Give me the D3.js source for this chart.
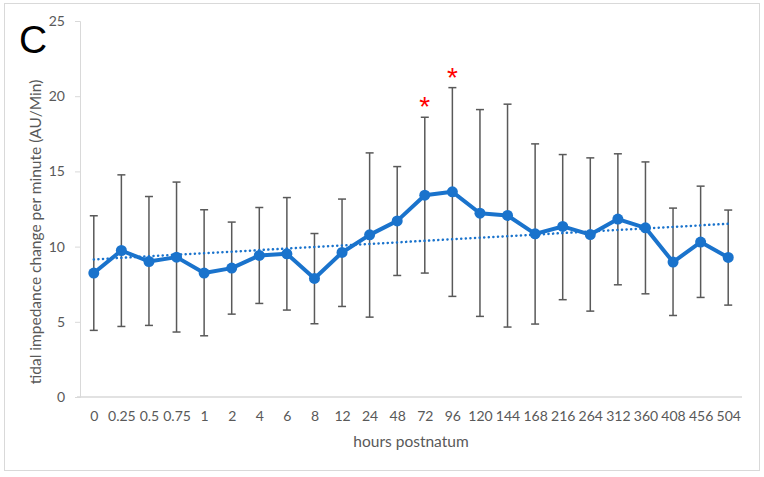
<!DOCTYPE html>
<html>
<head>
<meta charset="utf-8">
<script src="https://cdn.jsdelivr.net/npm/d3@7"></script>
<style>
  html, body { margin: 0; padding: 0; background: #fff; }
  svg { display: block; }
  text { font-family: "Lato", "Open Sans", sans-serif; }
</style>
</head>
<body>
<svg id="chart" width="764" height="477"></svg>
<script>
// ---- data ----
const categories = ["0","0.25","0.5","0.75","1","2","4","6","8","12","24","48","72","96","120","144","168","216","264","312","360","408","456","504"];
const meanValues = [8.24, 9.74, 9.01, 9.30, 8.24, 8.57, 9.41, 9.52, 7.88, 9.61, 10.78, 11.71, 13.42, 13.64, 12.22, 12.07, 10.85, 11.34, 10.80, 11.83, 11.25, 8.97, 10.30, 9.28];
const errUpper = [12.05, 14.77, 13.33, 14.29, 12.45, 11.63, 12.60, 13.26, 10.87, 13.16, 16.23, 15.32, 18.60, 20.57, 19.11, 19.47, 16.83, 16.12, 15.90, 16.17, 15.63, 12.56, 14.02, 12.43];
const errLower = [4.43, 4.69, 4.76, 4.32, 4.07, 5.51, 6.22, 5.78, 4.87, 6.02, 5.31, 8.08, 8.24, 6.69, 5.36, 4.65, 4.85, 6.47, 5.71, 7.46, 6.86, 5.42, 6.62, 6.11];
const significant = ["72", "96"];
const yTicks = [0, 5, 10, 15, 20, 25];
const panelLabel = "C";
const xTitle = "hours postnatum";
const yTitle = "tidal impedance change per minute (AU/Min)";

(function () {
const rows = categories.map((c, i) => ({ c, i, v: meanValues[i], hi: errUpper[i], lo: errLower[i] }));

const svg = d3.select("#chart");
const pl = 80, pr = 742, pt = 21, pb = 397;

const x = d3.scalePoint().domain(categories).range([pl, pr]).padding(0.5);
const y = d3.scaleLinear().domain([0, 25]).range([pb, pt]);

const grey = "#595959";
const blue = "#1a73cc";

// outer border
svg.append("rect").attr("x", 4.5).attr("y", 3.5).attr("width", 755).attr("height", 467)
  .attr("fill", "none").attr("stroke", "#d9d9d9").attr("stroke-width", 1);

// y axis
const yAxis = svg.append("g").attr("transform", `translate(${pl},0)`)
  .call(d3.axisLeft(y).tickValues(yTicks).tickSize(5).tickPadding(10));
yAxis.select(".domain").attr("stroke", "#d9d9d9");
yAxis.selectAll(".tick line").attr("stroke", "#d9d9d9");
yAxis.selectAll("text").attr("fill", grey).style("font-size", "14px");

// x axis
const xAxis = svg.append("g").attr("transform", `translate(0,${pb})`)
  .call(d3.axisBottom(x).tickSize(0).tickPadding(14));
xAxis.select(".domain").attr("stroke", "#d9d9d9").attr("d", `M${pl - 3},0H${pr}`).attr("stroke-width", 1.5);
xAxis.selectAll("text").attr("fill", grey).style("font-size", "14px");

// titles
svg.append("text").attr("x", (pl + pr) / 2).attr("y", 447).attr("text-anchor", "middle")
  .attr("fill", grey).style("font-size", "15.5px").text(xTitle);
svg.append("text").attr("transform", `translate(41,232) rotate(-90)`).attr("text-anchor", "middle")
  .attr("fill", grey).style("font-size", "15.5px").text(yTitle);
svg.append("text").attr("x", 19).attr("y", 53).attr("fill", "#000")
  .style("font-family", "'Liberation Sans', Arial, sans-serif").style("font-size", "39px").text(panelLabel);

// error bars
const eb = svg.append("g").attr("stroke", grey).attr("stroke-width", 1.5);
rows.forEach(d => {
  const cx = x(d.c);
  eb.append("line").attr("x1", cx).attr("x2", cx).attr("y1", y(d.hi)).attr("y2", y(d.lo));
  eb.append("line").attr("x1", cx - 4).attr("x2", cx + 4).attr("y1", y(d.hi)).attr("y2", y(d.hi));
  eb.append("line").attr("x1", cx - 4).attr("x2", cx + 4).attr("y1", y(d.lo)).attr("y2", y(d.lo));
});

// linear trend line (least squares on category index)
const n = rows.length;
const mx = d3.mean(rows, d => d.i + 1), my = d3.mean(rows, d => d.v);
const slope = d3.sum(rows, d => (d.i + 1 - mx) * (d.v - my)) / d3.sum(rows, d => (d.i + 1 - mx) ** 2);
const icpt = my - slope * mx;
svg.append("line")
  .attr("x1", x(categories[0])).attr("y1", y(icpt + slope * 1))
  .attr("x2", x(categories[n - 1])).attr("y2", y(icpt + slope * n))
  .attr("stroke", blue).attr("stroke-width", 2.5).attr("stroke-dasharray", "0.1,4.5").attr("stroke-linecap", "round");

// main line
svg.append("path").datum(rows)
  .attr("d", d3.line().x(d => x(d.c)).y(d => y(d.v)))
  .attr("fill", "none").attr("stroke", blue).attr("stroke-width", 4).attr("stroke-linejoin", "round");

svg.append("g").selectAll("circle").data(rows).join("circle")
  .attr("cx", d => x(d.c)).attr("cy", d => y(d.v)).attr("r", 5.5).attr("fill", blue);

// significance markers
svg.append("g").selectAll("text").data(rows.filter(d => significant.includes(d.c))).join("text")
  .attr("x", d => x(d.c)).attr("y", d => y(d.hi) - 1).attr("text-anchor", "middle")
  .attr("fill", "#ff0000").style("font-size", "28px")
  .style("font-family", "'Liberation Sans', Arial, sans-serif").text("*");
})();
</script>
</body>
</html>
